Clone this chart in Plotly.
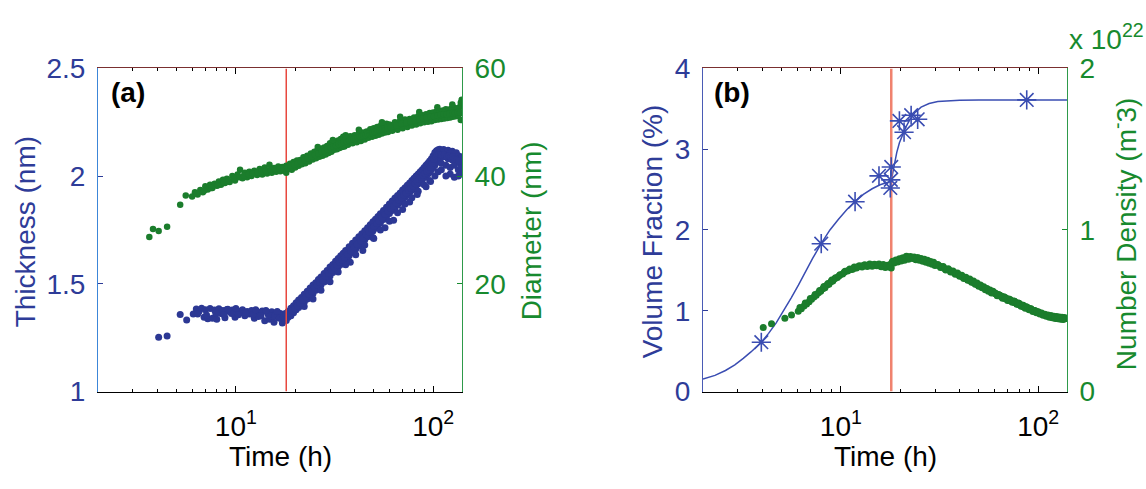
import math
import plotly.graph_objects as go

# ---------------- data ----------------
THICK_TIME = [
    4.06, 4.48, 5.22, 5.63, 6.08, 6.3, 6.5, 6.7, 6.9, 7.0,
    7.2, 7.4, 7.6, 7.8, 8.0, 8.2, 8.4, 8.6, 8.8, 9.0,
    9.3, 9.6, 9.9, 10.2, 10.5, 10.8, 11.1, 11.4, 11.7, 12.0,
    12.4, 12.8, 13.2, 13.6, 14.0, 14.4, 14.8, 15.2, 15.6, 16.0,
    16.4, 16.8, 17.2, 17.6, 18.0, 18.0, 17.0, 15.0, 13.0, 11.0,
    6.4, 7.1, 7.9, 8.7, 9.5, 10.3, 11.2, 12.2, 13.4, 14.6,
    15.8, 16.6, 17.4, 17.8, 9.1, 10.0, 12.6, 14.2, 16.2, 17.9,
    18.4, 18.4, 19.0, 19.0, 19.6, 19.6, 20.2, 20.2, 20.8, 20.8,
    21.5, 21.5, 22.2, 22.2, 22.2, 23.0, 23.0, 23.8, 23.8, 24.6,
    24.6, 24.6, 25.4, 25.4, 26.2, 26.2, 27.0, 27.0, 27.0, 28.0,
    28.0, 29.0, 29.0, 30.0, 30.0, 30.0, 31.0, 31.0, 32.0, 32.0,
    33.0, 33.0, 33.0, 34.0, 34.0, 35.0, 35.0, 36.0, 36.0, 36.0,
    37.5, 37.5, 39.0, 39.0, 40.5, 40.5, 40.5, 42.0, 42.0, 43.5,
    43.5, 45.0, 45.0, 45.0, 46.5, 46.5, 48.0, 48.0, 49.5, 49.5,
    49.5, 51.0, 51.0, 52.5, 52.5, 54.0, 54.0, 54.0, 56.0, 56.0,
    58.0, 58.0, 60.0, 60.0, 60.0, 62.0, 62.0, 64.0, 64.0, 66.0,
    66.0, 66.0, 68.0, 68.0, 70.0, 70.0, 72.0, 72.0, 72.0, 74.0,
    74.0, 76.0, 76.0, 78.0, 78.0, 78.0, 80.0, 80.0, 82.0, 82.0,
    84.0, 84.0, 84.0, 86.0, 86.0, 88.0, 88.0, 90.0, 90.0, 90.0,
    92.0, 92.0, 94.0, 94.0, 96.0, 96.0, 96.0, 98.0, 98.0, 100.0,
    100.0, 102.0, 102.0, 102.0, 104.0, 104.0, 106.0, 106.0, 106.0, 108.0,
    108.0, 110.0, 110.0, 110.0, 113.0, 113.0, 116.0, 116.0, 116.0, 119.0,
    119.0, 122.0, 122.0, 122.0, 125.0, 125.0, 128.0, 128.0, 128.0, 131.0,
    131.0, 134.0, 134.0, 134.0, 137.0, 137.0, 139.0, 139.0, 139.0, 140.0,
    18.7, 19.3, 19.9, 20.5, 21.1, 21.8, 22.6, 23.4, 24.2, 25.0,
    25.8, 26.6, 27.5, 28.5, 29.5, 30.5, 31.5, 32.5, 33.5, 34.5,
    35.5, 36.8, 38.2, 39.8, 41.2, 42.8, 44.2, 45.8, 47.2, 48.8,
    50.2, 51.8, 53.2, 55.0, 57.0, 59.0, 61.0, 63.0, 65.0, 67.0,
    69.0, 71.0, 73.0, 75.0, 77.0, 79.0, 81.0, 83.0, 85.0, 87.0,
    89.0, 91.0, 93.0, 95.0, 97.0, 99.0, 101.0, 103.0, 105.0, 107.0,
    109.0, 111.0, 114.0, 117.0, 120.0, 123.0, 126.0, 129.0, 132.0, 135.0,
    38.0, 44.0, 50.0, 57.0, 63.0, 70.0, 76.0, 83.0, 92.0, 97.0,
]
THICK_NM = [
    1.252, 1.258, 1.357, 1.332, 1.360, 1.383, 1.372, 1.386, 1.345, 1.380,
    1.338, 1.385, 1.340, 1.378, 1.336, 1.384, 1.362, 1.376, 1.342, 1.381,
    1.370, 1.378, 1.345, 1.374, 1.366, 1.380, 1.352, 1.372, 1.360, 1.376,
    1.340, 1.370, 1.362, 1.374, 1.328, 1.368, 1.335, 1.370, 1.322, 1.366,
    1.345, 1.362, 1.318, 1.360, 1.330, 1.355, 1.350, 1.352, 1.348, 1.366,
    1.360, 1.355, 1.365, 1.358, 1.362, 1.356, 1.364, 1.358, 1.352, 1.356,
    1.350, 1.340, 1.345, 1.340, 1.382, 1.385, 1.380, 1.376, 1.372, 1.362,
    1.372, 1.345, 1.386, 1.352, 1.398, 1.366, 1.412, 1.380, 1.425, 1.390,
    1.436, 1.405, 1.452, 1.414, 1.395, 1.466, 1.430, 1.480, 1.442, 1.494,
    1.455, 1.430, 1.505, 1.470, 1.520, 1.482, 1.532, 1.495, 1.470, 1.548,
    1.508, 1.562, 1.522, 1.578, 1.536, 1.510, 1.590, 1.552, 1.605, 1.564,
    1.618, 1.578, 1.555, 1.630, 1.590, 1.642, 1.600, 1.655, 1.612, 1.588,
    1.672, 1.630, 1.688, 1.645, 1.703, 1.662, 1.635, 1.718, 1.675, 1.732,
    1.690, 1.746, 1.705, 1.680, 1.760, 1.718, 1.774, 1.732, 1.788, 1.745,
    1.715, 1.800, 1.758, 1.812, 1.770, 1.825, 1.782, 1.750, 1.840, 1.798,
    1.855, 1.812, 1.870, 1.826, 1.790, 1.884, 1.840, 1.898, 1.852, 1.910,
    1.866, 1.830, 1.922, 1.878, 1.935, 1.890, 1.946, 1.902, 1.870, 1.958,
    1.912, 1.968, 1.924, 1.980, 1.934, 1.900, 1.990, 1.945, 2.000, 1.955,
    2.010, 1.964, 1.930, 2.020, 1.974, 2.030, 1.985, 2.040, 1.994, 1.960,
    2.050, 2.002, 2.060, 2.010, 2.070, 2.018, 1.980, 2.080, 2.030, 2.095,
    2.040, 2.110, 2.050, 2.000, 2.118, 2.065, 2.122, 2.075, 2.020, 2.125,
    2.085, 2.120, 2.060, 2.030, 2.124, 2.090, 2.115, 2.050, 2.000, 2.120,
    2.080, 2.110, 2.040, 2.010, 2.115, 2.075, 2.105, 2.050, 1.995, 2.108,
    2.080, 2.095, 2.030, 2.000, 2.085, 2.060, 2.070, 2.010, 2.040, 2.090,
    1.362, 1.374, 1.384, 1.398, 1.410, 1.424, 1.440, 1.452, 1.466, 1.482,
    1.494, 1.506, 1.518, 1.534, 1.548, 1.562, 1.574, 1.586, 1.600, 1.610,
    1.622, 1.636, 1.652, 1.670, 1.684, 1.700, 1.712, 1.728, 1.740, 1.754,
    1.766, 1.780, 1.792, 1.806, 1.822, 1.836, 1.850, 1.862, 1.874, 1.888,
    1.900, 1.912, 1.922, 1.934, 1.944, 1.954, 1.964, 1.974, 1.984, 1.994,
    2.004, 2.012, 2.022, 2.030, 2.040, 2.060, 2.078, 2.092, 2.098, 2.100,
    2.100, 2.098, 2.100, 2.092, 2.094, 2.088, 2.090, 2.082, 2.076, 2.070,
    1.600, 1.655, 1.710, 1.760, 1.795, 1.845, 1.880, 1.915, 1.950, 1.975,
]

DIAM_TIME = [
    3.64, 3.80, 4.06, 4.48, 5.22, 5.57, 6.0, 6.2, 6.4, 6.6,
    6.8, 7.0, 7.2, 7.4, 7.6, 7.8, 8.0, 8.2, 8.4, 8.6,
    8.8, 9.0, 9.3, 9.6, 9.9, 10.2, 10.5, 10.8, 11.1, 11.4,
    11.7, 12.0, 12.4, 12.8, 13.2, 13.6, 14.0, 14.4, 14.8, 15.2,
    15.6, 16.0, 16.4, 16.8, 17.2, 17.6, 18.0, 18.0, 18.4, 18.8,
    19.2, 19.6, 20.0, 20.4, 20.8, 21.2, 21.6, 22.0, 22.5, 23.0,
    23.5, 24.0, 24.5, 25.0, 25.5, 26.0, 26.5, 27.0, 27.5, 28.0,
    28.5, 29.0, 29.5, 30.0, 30.5, 31.0, 31.5, 32.0, 32.5, 33.0,
    33.5, 34.0, 34.5, 35.0, 35.5, 36.0, 37.0, 38.0, 39.0, 40.0,
    41.0, 42.0, 43.0, 44.0, 45.0, 46.0, 47.0, 48.0, 49.0, 50.0,
    51.0, 52.0, 53.0, 54.0, 55.0, 56.0, 57.0, 58.0, 59.0, 60.0,
    62.0, 64.0, 66.0, 68.0, 70.0, 72.0, 74.0, 76.0, 78.0, 80.0,
    82.0, 84.0, 86.0, 88.0, 90.0, 92.0, 94.0, 96.0, 98.0, 100.0,
    102.0, 104.0, 106.0, 108.0, 110.0, 112.0, 114.0, 116.0, 118.0, 120.0,
    122.0, 124.0, 126.0, 128.0, 130.0, 132.0, 134.0, 136.0, 138.0, 139.5,
    63.0, 67.0, 71.0, 75.0, 79.0, 83.0, 87.0, 91.0, 95.0, 99.0,
    103.0, 107.0, 111.0, 115.0, 119.0, 123.0, 127.0, 131.0, 135.0, 139.0,
    6.3, 6.9, 7.5, 8.1, 8.7, 9.2, 9.8, 10.4, 11.0, 11.6,
    12.2, 12.9, 13.5, 14.2, 15.0, 15.8, 16.6, 17.4, 18.2, 19.0,
    19.8, 20.6, 21.4, 22.3, 23.2, 24.2, 25.2, 26.2, 27.2, 28.2,
    29.2, 30.2, 31.2, 32.2, 33.2, 34.2, 35.2, 36.5, 37.5, 38.5,
    39.5, 40.5, 41.5, 42.5, 43.5, 44.5, 45.5, 46.5, 47.5, 48.5,
    49.5, 50.5, 51.5, 52.5, 53.5, 54.5, 55.5, 56.5, 57.5, 58.5,
    61.0, 65.0, 69.0, 73.0, 77.0, 81.0, 85.0, 89.0, 93.0, 97.0,
    101.0, 105.0, 109.0, 113.0, 117.0, 121.0, 125.0, 129.0, 133.0, 137.0,
    26.0, 31.0, 36.0, 42.0, 55.0, 68.0, 85.0, 105.0, 125.0, 138.0,
]
DIAM_NM = [
    28.7, 30.2, 29.8, 30.6, 34.7, 36.4, 36.2, 37.0, 36.6, 37.4,
    37.0, 38.1, 37.5, 38.4, 37.8, 38.6, 38.2, 39.0, 38.4, 39.3,
    38.7, 39.5, 38.9, 40.0, 39.2, 40.3, 41.2, 39.6, 40.6, 39.8,
    40.8, 40.0, 41.0, 40.2, 41.3, 40.3, 41.6, 40.5, 42.1, 40.6,
    41.5, 40.8, 41.8, 40.9, 41.7, 41.0, 41.9, 40.6, 41.4, 42.3,
    41.2, 42.6, 41.6, 42.9, 41.9, 43.0, 42.2, 43.5, 42.4, 43.8,
    42.7, 44.2, 43.1, 44.5, 43.3, 44.9, 43.6, 45.1, 43.8, 45.3,
    44.0, 45.6, 44.3, 46.1, 44.5, 45.8, 44.9, 46.4, 45.0, 46.6,
    45.2, 46.9, 45.4, 47.3, 45.5, 46.8, 45.8, 47.4, 46.1, 47.6,
    46.3, 47.9, 46.5, 48.1, 46.8, 48.3, 47.1, 48.7, 47.3, 48.9,
    47.5, 49.1, 47.7, 49.3, 47.9, 49.5, 48.1, 49.7, 48.2, 49.6,
    48.4, 50.0, 48.6, 50.3, 48.9, 50.5, 49.1, 50.6, 49.4, 50.9,
    49.6, 51.1, 49.8, 51.3, 50.0, 51.5, 50.1, 51.7, 50.2, 51.8,
    50.4, 52.0, 50.5, 52.1, 50.6, 52.2, 50.7, 52.4, 50.8, 52.3,
    50.9, 52.6, 51.0, 52.7, 51.1, 52.5, 51.2, 52.8, 50.4, 54.2,
    49.2, 49.5, 49.7, 49.9, 50.2, 50.4, 50.6, 50.8, 51.0, 51.1,
    51.2, 51.3, 51.4, 51.5, 51.6, 51.7, 51.8, 51.9, 52.0, 51.7,
    36.7, 37.3, 37.8, 38.3, 38.8, 39.1, 39.5, 39.8, 40.1, 40.3,
    40.5, 40.7, 40.9, 41.0, 41.2, 41.3, 41.3, 41.4, 41.6, 41.9,
    42.1, 42.4, 42.6, 43.0, 43.2, 43.6, 43.9, 44.2, 44.5, 44.7,
    45.0, 45.3, 45.5, 45.7, 45.9, 46.1, 46.3, 46.4, 46.6, 46.8,
    46.9, 47.0, 47.1, 47.3, 47.4, 47.5, 47.6, 47.8, 47.9, 48.0,
    48.1, 48.2, 48.3, 48.4, 48.5, 48.6, 48.7, 48.8, 48.9, 49.0,
    49.1, 49.4, 49.7, 49.9, 50.1, 50.3, 50.5, 50.7, 50.9, 51.0,
    51.1, 51.2, 51.4, 51.5, 51.5, 51.6, 51.7, 51.7, 51.8, 51.8,
    45.4, 46.7, 47.6, 48.6, 50.0, 51.0, 51.9, 52.8, 53.3, 53.6,
]

ND_TIME = [
    4.04, 4.45, 5.2, 5.62, 6.08, 6.3, 6.5, 6.7, 6.9, 7.1,
    7.3, 7.5, 7.7, 7.9, 8.1, 8.3, 8.5, 8.7, 8.9, 9.1,
    9.3, 9.6, 9.9, 10.2, 10.5, 10.8, 11.1, 11.4, 11.7, 12.0,
    12.4, 12.8, 13.2, 13.6, 14.0, 14.4, 14.8, 15.2, 15.6, 16.0,
    16.4, 16.8, 17.2, 17.6, 18.0, 18.0, 18.3, 18.6, 19.0, 19.4,
    19.8, 20.2, 20.6, 21.0, 21.5, 22.0, 22.5, 23.0, 23.5, 24.0,
    24.5, 25.0, 25.5, 26.0, 26.5, 27.0, 27.5, 28.0, 28.5, 29.0,
    29.5, 30.0, 31.0, 32.0, 33.0, 34.0, 35.0, 36.0, 37.0, 38.0,
    39.0, 40.0, 41.0, 42.0, 43.0, 44.0, 45.0, 46.0, 47.0, 48.0,
    49.0, 50.0, 51.0, 52.0, 53.0, 54.0, 55.0, 56.0, 57.0, 58.0,
    60.0, 62.0, 64.0, 66.0, 68.0, 70.0, 72.0, 74.0, 76.0, 78.0,
    80.0, 82.0, 84.0, 86.0, 88.0, 90.0, 92.0, 94.0, 96.0, 98.0,
    100.0, 102.0, 104.0, 106.0, 108.0, 110.0, 112.0, 114.0, 116.0, 118.0,
    120.0, 122.0, 124.0, 126.0, 128.0, 130.0, 132.0, 134.0, 136.0, 138.5,
    59.0, 61.0, 63.0, 65.0, 67.0, 69.0, 71.0, 73.0, 75.0, 77.0,
    79.0, 81.0, 83.0, 85.0, 87.0, 89.0, 91.0, 93.0, 95.0, 97.0,
    99.0, 103.0, 107.0, 111.0, 115.0, 119.0, 123.0, 127.0, 131.0, 135.0,
    6.2, 6.6, 7.0, 7.4, 7.8, 8.2, 8.6, 9.0, 9.4, 9.8,
    10.4, 11.0, 11.6, 12.2, 12.9, 13.7, 14.6, 15.4, 16.2, 17.0,
    17.8, 18.2, 18.8, 19.6, 20.4, 21.2, 22.2, 23.2, 24.2, 25.2,
    26.2, 27.2, 28.2, 29.2, 30.5, 31.5, 32.5, 33.5, 34.5, 35.5,
    36.5, 37.5, 38.5, 39.5, 40.5, 41.5, 42.5, 43.5, 44.5, 45.5,
    46.5, 47.5, 48.5, 49.5, 50.5, 51.5, 52.5, 53.5, 54.5, 55.5,
    56.5, 57.5, 58.5, 59.5, 60.5, 61.5, 62.5, 63.5, 64.5, 65.5,
    66.5, 67.5, 68.5, 69.5, 70.5, 71.5, 72.5, 73.5, 74.5, 75.5,
    76.5, 77.5, 78.5, 79.5, 80.5, 81.5, 82.5, 83.5, 84.5, 85.5,
    86.5, 88.5, 90.5, 92.5, 94.5, 96.5, 98.5, 100.5, 102.5, 104.5,
    106.5, 108.5, 110.5, 112.5, 114.5, 117.0, 121.0, 125.0, 129.0, 133.0,
]
ND_E22 = [
    0.396, 0.419, 0.454, 0.473, 0.497, 0.512, 0.530, 0.542, 0.556, 0.571,
    0.585, 0.596, 0.612, 0.620, 0.636, 0.642, 0.660, 0.664, 0.680, 0.684,
    0.698, 0.706, 0.722, 0.728, 0.744, 0.746, 0.758, 0.756, 0.770, 0.764,
    0.778, 0.770, 0.784, 0.774, 0.790, 0.776, 0.788, 0.778, 0.790, 0.772,
    0.786, 0.768, 0.782, 0.770, 0.764, 0.792, 0.806, 0.796, 0.814, 0.802,
    0.822, 0.808, 0.828, 0.812, 0.838, 0.818, 0.836, 0.824, 0.832, 0.816,
    0.830, 0.812, 0.824, 0.806, 0.818, 0.800, 0.812, 0.794, 0.804, 0.788,
    0.800, 0.780, 0.786, 0.768, 0.774, 0.752, 0.760, 0.740, 0.746, 0.726,
    0.734, 0.714, 0.720, 0.700, 0.708, 0.688, 0.696, 0.676, 0.684, 0.664,
    0.672, 0.652, 0.660, 0.642, 0.648, 0.630, 0.638, 0.620, 0.628, 0.610,
    0.612, 0.592, 0.596, 0.578, 0.582, 0.564, 0.570, 0.552, 0.558, 0.540,
    0.546, 0.528, 0.534, 0.516, 0.522, 0.506, 0.512, 0.496, 0.502, 0.488,
    0.494, 0.480, 0.486, 0.472, 0.478, 0.466, 0.474, 0.460, 0.470, 0.456,
    0.466, 0.452, 0.464, 0.450, 0.462, 0.448, 0.460, 0.446, 0.458, 0.452,
    0.620, 0.606, 0.600, 0.590, 0.586, 0.576, 0.572, 0.562, 0.560, 0.550,
    0.548, 0.538, 0.534, 0.526, 0.524, 0.516, 0.512, 0.506, 0.502, 0.498,
    0.492, 0.484, 0.476, 0.470, 0.464, 0.460, 0.456, 0.454, 0.452, 0.450,
    0.520, 0.548, 0.576, 0.600, 0.626, 0.650, 0.668, 0.690, 0.704, 0.716,
    0.738, 0.752, 0.762, 0.772, 0.778, 0.782, 0.784, 0.785, 0.780, 0.778,
    0.776, 0.800, 0.806, 0.814, 0.820, 0.826, 0.828, 0.828, 0.824, 0.818,
    0.812, 0.806, 0.800, 0.792, 0.784, 0.778, 0.770, 0.762, 0.756, 0.750,
    0.742, 0.736, 0.730, 0.722, 0.716, 0.708, 0.702, 0.696, 0.690, 0.684,
    0.678, 0.672, 0.666, 0.660, 0.655, 0.650, 0.644, 0.639, 0.634, 0.629,
    0.624, 0.620, 0.616, 0.612, 0.606, 0.602, 0.598, 0.594, 0.590, 0.586,
    0.582, 0.578, 0.574, 0.571, 0.568, 0.564, 0.561, 0.558, 0.555, 0.552,
    0.549, 0.546, 0.543, 0.540, 0.537, 0.534, 0.531, 0.528, 0.525, 0.522,
    0.520, 0.515, 0.510, 0.505, 0.500, 0.496, 0.492, 0.488, 0.484, 0.480,
    0.477, 0.474, 0.471, 0.468, 0.465, 0.462, 0.458, 0.455, 0.453, 0.451,
]

FIT_TIME = [2.0, 2.3, 2.6, 2.9, 3.2, 3.5, 3.95, 4.3, 4.7, 5.2, 5.6, 6.1, 6.6,
            7.2, 7.94, 8.8, 9.7, 10.7, 11.8, 13.0, 14.4, 15.8, 17.0, 18.0,
            18.3, 18.7, 19.2, 19.8, 20.5, 21.3, 22.3, 23.7, 25.5, 28.0, 31.0,
            35.0, 40.0, 50.0, 140.0]
FIT_VF = [0.154, 0.20, 0.26, 0.33, 0.41, 0.49, 0.61, 0.72, 0.85, 1.02, 1.16,
          1.32, 1.48, 1.65, 1.83, 2.00, 2.13, 2.25, 2.35, 2.44, 2.51, 2.56,
          2.585, 2.60, 2.70, 2.83, 2.96, 3.08, 3.18, 3.27, 3.36, 3.45, 3.52,
          3.565, 3.59, 3.60, 3.606, 3.61, 3.61]

STAR_TIME = [3.95, 7.95, 11.8, 15.6, 17.8, 17.9, 18.0, 19.8, 20.9, 22.7, 24.5, 87.5]
STAR_VF = [0.61, 1.83, 2.35, 2.67, 2.52, 2.62, 2.78, 3.35, 3.21, 3.42, 3.37, 3.61]

ONSET_TIME = 18.0
TIME_RANGE = [2.0, 140.0]
THICK_RANGE = [1.0, 2.5]
DIAM_RANGE = [0.0, 60.0]
VF_RANGE = [0.0, 4.0]
ND_RANGE = [0.0, 2.0]
X_TICKS = [10, 100]
X_TICKTEXT = ["10<sup>1</sup>", "10<sup>2</sup>"]
X_MINOR = [3, 4, 5, 6, 7, 8, 9, 20, 30, 40, 50, 60, 70, 80, 90]
THICK_TICKS = [1, 1.5, 2, 2.5]
DIAM_TICKS = [20, 40, 60]
VF_TICKS = [0, 1, 2, 3, 4]
ND_TICKS = [0, 1, 2]

# ---------------- style ----------------
W, H = 1146, 489
FONT = "Liberation Sans, Arial, sans-serif"
FS = 28
BLUE_TXT = "#2E3C98"
BLUE_PT = "#2C3894"
BLUE_LINE = "#3A4DB2"
GREEN_TXT = "#178A2E"
GREEN_PT = "#1B7D2C"
LEFT_LINE_A = "#3C86D8"
LEFT_LINE_B = "#4A5BB5"
RIGHT_LINE = "#2E9A4A"
TOP_LINE = "#7A3030"
RED_A = "#E8483F"
RED_B = "#F0826E"

XA = [98 / W, 462 / W]
XB = [703 / W, 1067 / W]
YD = [87 / H, 432 / H]
XR = [math.log10(TIME_RANGE[0]), math.log10(TIME_RANGE[1])]


def px(x):
    return x / W


def py(y):
    return 1 - y / H


def xaxis(domain, anchor, top=False, overlay=None):
    d = dict(type="log", range=XR, domain=domain, anchor=anchor,
             showline=True, linewidth=1,
             linecolor=TOP_LINE if top else "black",
             ticks="inside", ticklen=6, tickcolor="black",
             tickvals=X_TICKS, ticktext=X_TICKTEXT,
             tickfont=dict(family=FONT, size=FS, color="black"),
             ticklabelstandoff=10,
             minor=dict(ticks="inside", ticklen=3, tickcolor="black",
                        tickvals=X_MINOR, showgrid=False),
             showgrid=False, zeroline=False, fixedrange=True)
    if top:
        d.update(side="top", overlaying=overlay, showticklabels=False)
    return d


def yaxis(rng, ticks, color_line, color_txt, anchor, right=False, overlay=None):
    d = dict(range=rng, domain=YD, anchor=anchor, showline=True, linewidth=1,
             linecolor=color_line, ticks="inside", ticklen=5, tickcolor=color_txt,
             tickvals=ticks, ticktext=[f"{t:g}" for t in ticks],
             tickfont=dict(family=FONT, size=FS, color=color_txt),
             ticklabelstandoff=6,
             showgrid=False, zeroline=False, fixedrange=True)
    if right:
        d.update(side="right", overlaying=overlay)
    return d


fig = go.Figure()

# panel (a)
fig.add_trace(go.Scatter(x=THICK_TIME, y=THICK_NM, mode="markers", xaxis="x", yaxis="y",
                         marker=dict(size=7, color=BLUE_PT), hoverinfo="skip",
                         showlegend=False))
fig.add_trace(go.Scatter(x=DIAM_TIME, y=DIAM_NM, mode="markers", xaxis="x", yaxis="y2",
                         marker=dict(size=6.5, color=GREEN_PT), hoverinfo="skip",
                         showlegend=False))
fig.add_trace(go.Scatter(x=[ONSET_TIME, ONSET_TIME], y=THICK_RANGE, mode="lines",
                         xaxis="x", yaxis="y", line=dict(color=RED_A, width=1.5),
                         hoverinfo="skip", showlegend=False))
fig.add_trace(go.Scatter(x=[ONSET_TIME], y=[THICK_RANGE[0]], mode="markers",
                         xaxis="x2", yaxis="y", marker=dict(opacity=0),
                         hoverinfo="skip", showlegend=False))

# panel (b)
fig.add_trace(go.Scatter(x=ND_TIME, y=ND_E22, mode="markers", xaxis="x3", yaxis="y4",
                         marker=dict(size=7, color=GREEN_PT), hoverinfo="skip",
                         showlegend=False))
fig.add_trace(go.Scatter(x=FIT_TIME, y=FIT_VF, mode="lines", xaxis="x3", yaxis="y3",
                         line=dict(color=BLUE_LINE, width=1.5),
                         hoverinfo="skip", showlegend=False))
fig.add_trace(go.Scatter(x=[ONSET_TIME, ONSET_TIME], y=VF_RANGE, mode="lines",
                         xaxis="x3", yaxis="y3", line=dict(color=RED_B, width=2.5),
                         hoverinfo="skip", showlegend=False))
fig.add_trace(go.Scatter(x=STAR_TIME, y=STAR_VF, mode="markers", xaxis="x3", yaxis="y3",
                         marker=dict(symbol="asterisk-open", size=16, color=BLUE_LINE,
                                     line=dict(color=BLUE_LINE, width=1.6)),
                         hoverinfo="skip", showlegend=False))
fig.add_trace(go.Scatter(x=[ONSET_TIME], y=[VF_RANGE[0]], mode="markers",
                         xaxis="x4", yaxis="y3", marker=dict(opacity=0),
                         hoverinfo="skip", showlegend=False))

ann = []


def text(x, y, s, color="black", angle=0, bold=False, xanchor="center", yanchor="middle", size=FS):
    ann.append(dict(x=px(x), y=py(y), xref="paper", yref="paper", text=f"<b>{s}</b>" if bold else s,
                    showarrow=False, textangle=angle, xanchor=xanchor, yanchor=yanchor,
                    font=dict(family=FONT, size=size, color=color)))


text(25, 232, "Thickness (nm)", BLUE_TXT, -90)
text(531, 231, "Diameter (nm)", GREEN_TXT, -90)
text(280, 471, "Time (h)")
text(128, 83, "(a)", bold=True)
text(652, 231, "Volume Fraction (%)", BLUE_TXT, -90)
text(1124, 234, "Number Density (m<sup>-</sup>3)", GREEN_TXT, -90)
text(885, 471, "Time (h)")
text(732, 83, "(b)", bold=True)
text(1067, 45, "x 10<sup>22</sup>", GREEN_TXT, xanchor="left", yanchor="bottom")

fig.update_layout(
    width=W, height=H, margin=dict(l=0, r=0, t=0, b=0),
    paper_bgcolor="white", plot_bgcolor="white",
    font=dict(family=FONT, size=FS),
    showlegend=False,
    xaxis=xaxis(XA, "y"),
    xaxis2=xaxis(XA, "y", top=True, overlay="x"),
    yaxis=yaxis(THICK_RANGE, THICK_TICKS, LEFT_LINE_A, BLUE_TXT, "x"),
    yaxis2=yaxis(DIAM_RANGE, DIAM_TICKS, RIGHT_LINE, GREEN_TXT, "x", right=True, overlay="y"),
    xaxis3=xaxis(XB, "y3"),
    xaxis4=xaxis(XB, "y3", top=True, overlay="x3"),
    yaxis3=yaxis(VF_RANGE, VF_TICKS, LEFT_LINE_B, BLUE_TXT, "x3"),
    yaxis4=yaxis(ND_RANGE, ND_TICKS, RIGHT_LINE, GREEN_TXT, "x3", right=True, overlay="y3"),
    annotations=ann,
)

fig.write_html(
    "out.html",
    config={"displayModeBar": False, "staticPlot": True},
    post_script="document.body.style.margin='0';document.body.style.overflow='hidden';",
)
